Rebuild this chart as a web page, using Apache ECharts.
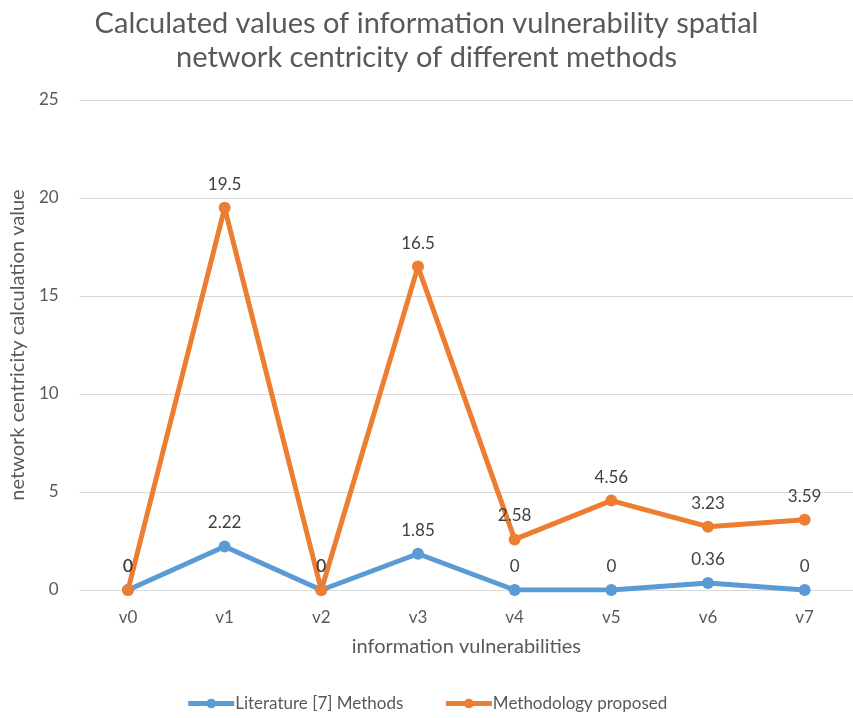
<!DOCTYPE html>
<html>
<head>
<meta charset="utf-8">
<script src="https://cdn.jsdelivr.net/npm/echarts@6/dist/echarts.min.js"></script>
<style>
  html, body { margin: 0; padding: 0; background: #fff; }
  #chart { width: 853px; height: 718px; }
</style>
</head>
<body>
<div id="chart"></div>
<script>
const categories = ['v0', 'v1', 'v2', 'v3', 'v4', 'v5', 'v6', 'v7']
const literatureValues = [0, 2.22, 0, 1.85, 0, 0, 0.36, 0]
const proposedValues = [0, 19.5, 0, 16.5, 2.58, 4.56, 3.23, 3.59]
const yTicks = [0, 5, 10, 15, 20, 25]

const font = 'Lato, "Open Sans", sans-serif'
const mychart = echarts.init(document.getElementById('chart'))

const labelStyle = {
  show: true,
  position: 'top',
  distance: 9,
  color: '#404040',
  fontSize: 17,
  fontFamily: font
}

const option = {
  animation: false,
  textStyle: { fontFamily: font },
  title: {
    text: 'Calculated values of information vulnerability spatial\nnetwork centricity of different methods',
    left: 'center',
    top: 2,
    textStyle: {
      color: '#595959',
      fontSize: 29,
      fontWeight: 'normal',
      lineHeight: 34,
      fontFamily: font
    }
  },
  legend: {
    bottom: 1,
    left: 'center',
    itemGap: 40,
    itemWidth: 46,
    itemHeight: 12,
    lineStyle: { width: 5 },
    textStyle: { color: '#595959', fontSize: 17, fontFamily: font, padding: [0, 0, 0, -4] },
    data: ['Literature [7] Methods', 'Methodology proposed']
  },
  grid: {
    left: 78,
    top: 100,
    width: 786,
    height: 490
  },
  xAxis: {
    type: 'category',
    data: categories,
    name: 'information vulnerabilities',
    nameLocation: 'middle',
    nameGap: 47,
    nameTextStyle: { color: '#595959', fontSize: 20 },
    axisLine: { show: false },
    axisTick: { show: false },
    axisLabel: { color: '#595959', fontSize: 17, margin: 19 }
  },
  yAxis: {
    type: 'value',
    min: yTicks[0],
    max: yTicks[yTicks.length - 1],
    interval: 5,
    name: 'network centricity calculation value',
    nameLocation: 'middle',
    nameGap: 48,
    nameTextStyle: { color: '#595959', fontSize: 20 },
    axisLine: { show: false },
    axisTick: { show: false },
    axisLabel: { color: '#595959', fontSize: 17, margin: 21 },
    splitLine: { lineStyle: { color: '#d9d9d9', width: 1 } }
  },
  series: [
    {
      name: 'Literature [7] Methods',
      type: 'line',
      data: literatureValues,
      symbol: 'circle',
      symbolSize: 12,
      color: '#5B9BD5',
      lineStyle: { width: 5, color: '#5B9BD5' },
      label: labelStyle
    },
    {
      name: 'Methodology proposed',
      type: 'line',
      data: proposedValues,
      symbol: 'circle',
      symbolSize: 12,
      color: '#ED7D31',
      lineStyle: { width: 5, color: '#ED7D31' },
      label: labelStyle
    }
  ]
}
mychart.setOption(option)
</script>
</body>
</html>
